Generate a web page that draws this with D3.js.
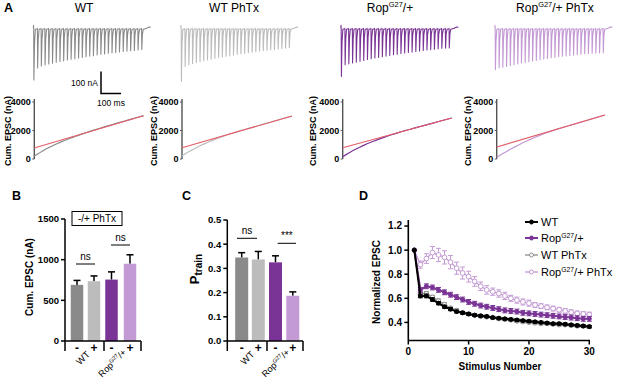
<!DOCTYPE html>
<html><head><meta charset="utf-8">
<script src="https://cdn.jsdelivr.net/npm/d3@7"></script>
<style>body{margin:0;background:#fff}svg{display:block}text{font-family:"Liberation Sans",Arial,sans-serif}</style>
</head><body>
<script>
// ---------------- DATA ----------------
const conditions = ["WT", "WT PhTx", "Rop/+", "Rop/+ PhTx"];
// Panel A: EPSC peak amplitudes (nA) for the 30-pulse train
const traceWT   = [241,185,176,171,167,163,159,155,152,148,145,142,139,136,133,130,128,125,122,120,117,115,113,111,109,107,105,104,102,100];
const traceWTP  = [247,178,170,165,160,156,152,148,144,140,137,134,131,128,125,122,119,117,114,112,110,107,105,103,101,99,97,95,93,91];
const traceRop  = [224,170,166,162,158,154,150,146,142,139,136,133,130,127,124,121,118,116,113,111,109,106,104,102,100,98,96,94,93,92];
const traceRopP = [193,184,182,178,174,170,166,162,159,156,153,150,147,144,141,138,136,133,131,129,127,125,123,121,119,118,117,116,115,114];
// Panel A: cumulative EPSC (nA) per pulse, and back-extrapolated linear fit (value at pulse 1 and 30)
const cumWT   = [200,370,530,680,820,950,1070,1185,1295,1400,1500,1595,1690,1780,1868,1955,2040,2123,2205,2285,2363,2440,2517,2593,2668,2743,2818,2893,2968,3043];
const cumWTP  = [210,380,540,690,830,960,1080,1195,1305,1410,1510,1608,1700,1788,1872,1952,2028,2104,2180,2256,2332,2408,2484,2560,2636,2712,2788,2864,2940,3016];
const cumRop  = [160,325,480,625,760,888,1008,1120,1226,1328,1426,1521,1612,1700,1785,1868,1945,2018,2090,2162,2234,2306,2378,2450,2522,2594,2666,2738,2810,2880];
const cumRopP = [100,275,435,585,730,870,1005,1135,1260,1380,1495,1605,1710,1810,1905,1995,2080,2160,2238,2315,2393,2470,2548,2626,2703,2781,2858,2936,3014,3090];
const fitWT = [770, 3040], fitWTP = [790, 3016], fitRop = [790, 2880], fitRopP = [840, 3090];
const cumTicks = [0, 2000, 4000];
// Panel B
const bSigns = ["-", "+", "-", "+"];
const bGroups = ["WT", "Rop/+"];
const bMeans = [690, 735, 755, 950];
const bErr   = [55, 65, 95, 110];
const bTicks = [0, 500, 1000, 1500];
// Panel C
const cMeans = [0.345, 0.337, 0.325, 0.187];
const cErr   = [0.020, 0.033, 0.027, 0.016];
const cTicks = [0, 0.1, 0.2, 0.3, 0.4, 0.5];
// Panel D
const stim = d3.range(1, 31);
const dWT     = [1.00,0.62,0.62,0.59,0.56,0.53,0.51,0.49,0.48,0.47,0.46,0.455,0.45,0.44,0.435,0.43,0.425,0.42,0.415,0.41,0.405,0.40,0.395,0.39,0.39,0.385,0.38,0.375,0.37,0.365];
const dWTerr  = [0,0.015,0.015,0.014,0.013,0.012,0.012,0.011,0.011,0.011,0.01,0.01,0.01,0.01,0.01,0.01,0.01,0.01,0.01,0.01,0.01,0.01,0.01,0.01,0.01,0.01,0.01,0.01,0.01,0.01];
const dWTP    = [1.00,0.64,0.64,0.61,0.58,0.55,0.52,0.50,0.48,0.47,0.46,0.45,0.445,0.44,0.43,0.425,0.42,0.41,0.405,0.40,0.395,0.39,0.39,0.385,0.38,0.38,0.375,0.37,0.37,0.365];
const dWTPerr = [0,0.015,0.015,0.015,0.014,0.013,0.012,0.012,0.011,0.011,0.011,0.01,0.01,0.01,0.01,0.01,0.01,0.01,0.01,0.01,0.01,0.01,0.01,0.01,0.01,0.01,0.01,0.01,0.01,0.01];
const dRop    = [1.00,0.67,0.70,0.69,0.67,0.65,0.63,0.61,0.59,0.57,0.555,0.54,0.53,0.52,0.51,0.50,0.495,0.49,0.48,0.475,0.47,0.465,0.46,0.455,0.45,0.445,0.44,0.435,0.43,0.43];
const dRopErr = [0,0.02,0.02,0.02,0.02,0.02,0.02,0.02,0.02,0.02,0.02,0.02,0.02,0.02,0.02,0.02,0.02,0.02,0.02,0.02,0.02,0.02,0.02,0.02,0.02,0.02,0.02,0.02,0.02,0.02];
const dRopP   = [1.00,0.88,0.93,0.98,0.96,0.94,0.90,0.85,0.81,0.78,0.74,0.70,0.67,0.655,0.64,0.62,0.60,0.585,0.57,0.56,0.545,0.535,0.525,0.515,0.505,0.495,0.485,0.475,0.47,0.465];
const dRopPerr= [0,0.03,0.04,0.05,0.055,0.055,0.055,0.05,0.05,0.045,0.04,0.035,0.035,0.03,0.03,0.03,0.025,0.025,0.025,0.025,0.02,0.02,0.02,0.02,0.02,0.02,0.02,0.02,0.02,0.02];
const dXTicks = [0, 10, 20, 30];
const dYTicks = [0.4, 0.6, 0.8, 1.0, 1.2];

// ---------------- STYLE ----------------
const C = {wt:"#8a8a8a", wtp:"#bcbcbc", rop:"#7a3496", ropp:"#c39ad4", red:"#e35d66", axis:"#000"};

const svg = d3.select("body").append("svg").attr("width", 617).attr("height", 382);

function ropLabel(sel, fs, tail) {
  sel.append("tspan").text("Rop");
  sel.append("tspan").text("G27").attr("font-size", fs*0.62).attr("dy", -fs*0.4);
  sel.append("tspan").text("/+" + (tail||"")).attr("dy", fs*0.4);
}
function letter(t, x, y) {
  svg.append("text").attr("x", x).attr("y", y).attr("font-size", 12.5).attr("font-weight", "bold").text(t);
}

// ---------------- PANEL A ----------------
letter("A", 4, 12);
const titles = [
  {x: 84, lab: "WT"}, {x: 234, lab: "WT PhTx"}, {x: 390, rop: true, tail: ""}, {x: 555, rop: true, tail: " PhTx"}
];
titles.forEach(t => {
  const tx = svg.append("text").attr("x", t.x).attr("y", 12).attr("font-size", 12).attr("text-anchor", "middle");
  if (t.rop) ropLabel(tx, 12, t.tail); else tx.text(t.lab);
});

const traces = [
  {amps: traceWT, x0: 33.5, col: C.wt},
  {amps: traceWTP, x0: 181, col: C.wtp},
  {amps: traceRop, x0: 341, col: C.rop},
  {amps: traceRopP, x0: 495, col: C.ropp}
];
traces.forEach(tr => {
  const tx = d3.scaleLinear().domain([0, 100]).range([tr.x0, tr.x0 + 18.6]);
  const ty = d3.scaleLinear().domain([0, 100]).range([28, 28 + 21.6]);
  const pts = [[-1, 0], [0, -12], [0.6, 0]];
  tr.amps.forEach((a, i) => {
    const t = 1 + i * 20;
    pts.push([t, 2], [t + 1.2, a], [t + 4.5, a * 0.3], [t + 9, 6], [t + 19.5, 3]);
  });
  const tl = 1 + 29 * 20 + 19.5;
  pts.push([tl + 8, 1], [tl + 14, -2], [tl + 22, -4], [tl + 30, -4]);
  svg.append("path").attr("d", d3.line().x(d => tx(d[0])).y(d => ty(d[1]))(pts))
    .attr("fill", "none").attr("stroke", tr.col).attr("stroke-width", 1.1).attr("stroke-linejoin", "round");
});
// scale bar
const sbx = d3.scaleLinear().domain([0, 100]).range([101, 121]);
const sby = d3.scaleLinear().domain([0, 100]).range([93.5, 71.5]);
svg.append("path").attr("d", `M${sbx(0)},${sby(100)}V${sby(0)}H${sbx(100)}`).attr("fill", "none").attr("stroke", "#000").attr("stroke-width", 1.5);
svg.append("text").attr("x", 98).attr("y", 86).attr("font-size", 8.5).attr("text-anchor", "end").text("100 nA");
svg.append("text").attr("x", 111).attr("y", 106).attr("font-size", 8.5).attr("text-anchor", "middle").text("100 ms");

// cumulative plots
const cumPanels = [
  {cum: cumWT, fit: fitWT, x0: 34.3, x1: 143.5, col: C.wt, lx: 8},
  {cum: cumWTP, fit: fitWTP, x0: 182, x1: 292, col: C.wtp, lx: 154},
  {cum: cumRop, fit: fitRop, x0: 342.7, x1: 451.7, col: C.rop, lx: 313},
  {cum: cumRopP, fit: fitRopP, x0: 496.7, x1: 605, col: C.ropp, lx: 468}
];
cumPanels.forEach(p => {
  const x = d3.scaleLinear().domain([1, 30]).range([p.x0, p.x1]);
  const y = d3.scaleLinear().domain([0, 4000]).range([159, 102]);
  const g = svg.append("g");
  g.append("line").attr("x1", p.x0).attr("x2", p.x0).attr("y1", 99).attr("y2", y(0)).attr("stroke", "#555").attr("stroke-width", 1.4);
  cumTicks.forEach(t => {
    g.append("line").attr("x1", p.x0 - 2).attr("x2", p.x0).attr("y1", y(t)).attr("y2", y(t)).attr("stroke", "#555").attr("stroke-width", 1);
    g.append("text").attr("x", p.x0 - 3.5).attr("y", y(t) + 3.2).attr("font-size", 9).attr("font-weight", "bold").attr("text-anchor", "end").text(t);
  });
  g.append("path").attr("d", d3.line().x((d, i) => x(i + 1)).y(d => y(d)).curve(d3.curveMonotoneX)(p.cum))
    .attr("fill", "none").attr("stroke", p.col).attr("stroke-width", 1.2);
  g.append("line").attr("x1", x(1)).attr("x2", x(30)).attr("y1", y(p.fit[0])).attr("y2", y(p.fit[1]))
    .attr("stroke", C.red).attr("stroke-width", 1.1);
  g.append("text").attr("transform", `translate(${p.lx + 3},131) rotate(-90)`).attr("font-size", 9).attr("font-weight", "bold")
    .attr("text-anchor", "middle").text("Cum.  EPSC (nA)");
});

// ---------------- BAR PANEL helper ----------------
function barPanel(o) {
  const y = d3.scaleLinear().domain(o.domain).range([341, o.top]);
  const g = svg.append("g");
  const cols = [C.wt, C.wtp, C.rop, C.ropp];
  o.means.forEach((m, i) => {
    const cx = o.centers[i];
    g.append("line").attr("x1", cx).attr("x2", cx).attr("y1", y(m)).attr("y2", y(m + o.err[i])).attr("stroke", "#000").attr("stroke-width", 1.5);
    g.append("line").attr("x1", cx - 3.5).attr("x2", cx + 3.5).attr("y1", y(m + o.err[i])).attr("y2", y(m + o.err[i])).attr("stroke", "#000").attr("stroke-width", 1.5);
    g.append("rect").attr("x", cx - o.bw / 2).attr("width", o.bw).attr("y", y(m)).attr("height", y(0) - y(m)).attr("fill", cols[i]);
  });
  g.append("line").attr("x1", o.axX).attr("x2", o.axX).attr("y1", o.top).attr("y2", 341).attr("stroke", "#000").attr("stroke-width", 1.5);
  o.ticks.forEach(t => {
    g.append("line").attr("x1", o.axX - 4).attr("x2", o.axX).attr("y1", y(t)).attr("y2", y(t)).attr("stroke", "#000").attr("stroke-width", 1.5);
    g.append("text").attr("x", o.axX - 6).attr("y", y(t) + 3.3).attr("font-size", 9.5).attr("font-weight", "bold").attr("text-anchor", "end").text(o.fmt(t));
  });
  g.append("line").attr("x1", o.axX).attr("x2", o.xEnd).attr("y1", 341).attr("y2", 341).attr("stroke", "#000").attr("stroke-width", 1.5);
  o.seps.forEach(s => g.append("line").attr("x1", s).attr("x2", s).attr("y1", 341).attr("y2", 351).attr("stroke", "#000").attr("stroke-width", 1.5));
  bSigns.forEach((s, i) => {
    g.append("text").attr("x", o.centers[i]).attr("y", 352).attr("font-size", 12).attr("font-weight", "bold").attr("text-anchor", "middle").text(s);
  });
  // group labels
  const gc = [(o.centers[0] + o.centers[1]) / 2, (o.centers[2] + o.centers[3]) / 2];
  g.append("text").attr("transform", `translate(${gc[0] + 5},355) rotate(-45)`).attr("font-size", 9.5).attr("text-anchor", "end").text(bGroups[0]);
  const rt = g.append("text").attr("transform", `translate(${gc[1] + 6},353) rotate(-45)`).attr("font-size", 9).attr("text-anchor", "end");
  ropLabel(rt, 9, "");
  return {g, y};
}

// ---------------- PANEL B ----------------
letter("B", 12, 200);
const B = barPanel({domain: [0, 1500], top: 219, means: bMeans, err: bErr, ticks: bTicks, fmt: d => d,
  centers: [77, 94, 111.5, 130], bw: 12.5, axX: 65, xEnd: 141, seps: [65, 104, 141]});
B.g.append("rect").attr("x", 72).attr("y", 211.5).attr("width", 50).attr("height", 14).attr("fill", "none").attr("stroke", "#000").attr("stroke-width", 1);
B.g.append("text").attr("x", 97).attr("y", 222).attr("font-size", 10).attr("text-anchor", "middle").text("-/+ PhTx");
[[76, 95, 264, "ns"], [111, 130, 245, "ns"]].forEach(s => {
  B.g.append("line").attr("x1", s[0]).attr("x2", s[1]).attr("y1", s[2]).attr("y2", s[2]).attr("stroke", "#000").attr("stroke-width", 1);
  B.g.append("text").attr("x", (s[0] + s[1]) / 2).attr("y", s[2] - 4).attr("font-size", 10).attr("text-anchor", "middle").text(s[3]);
});
B.g.append("text").attr("transform", "translate(33,277) rotate(-90)").attr("font-size", 10).attr("font-weight", "bold").attr("text-anchor", "middle").text("Cum.  EPSC (nA)");

// ---------------- PANEL C ----------------
letter("C", 182, 200);
const Cp = barPanel({domain: [0, 0.5], top: 220, means: cMeans, err: cErr, ticks: cTicks, fmt: d3.format(".1f"),
  centers: [241.7, 258.3, 275.5, 292.8], bw: 13, axX: 227.3, xEnd: 303, seps: [227.3, 267, 303]});
[[237, 257, 238.3, "ns"], [277.7, 296, 243.3, "***"]].forEach(s => {
  Cp.g.append("line").attr("x1", s[0]).attr("x2", s[1]).attr("y1", s[2]).attr("y2", s[2]).attr("stroke", "#000").attr("stroke-width", 1);
  Cp.g.append("text").attr("x", (s[0] + s[1]) / 2).attr("y", s[2] - 4).attr("font-size", 10).attr("text-anchor", "middle").text(s[3]);
});
const pt = Cp.g.append("text").attr("transform", "translate(199,269) rotate(-90)").attr("font-weight", "bold").attr("text-anchor", "middle");
pt.append("tspan").text("P").attr("font-size", 13);
pt.append("tspan").text("train").attr("font-size", 10).attr("dy", 3);

// ---------------- PANEL D ----------------
letter("D", 359, 200);
const dx = d3.scaleLinear().domain([0, 30]).range([408.3, 589.3]);
const dy = d3.scaleLinear().domain([0.25, 1.25]).range([340.5, 220]);
const gD = svg.append("g");
gD.append("line").attr("x1", 408.3).attr("x2", 408.3).attr("y1", 220).attr("y2", 340.5).attr("stroke", "#000").attr("stroke-width", 1.6);
gD.append("line").attr("x1", 408.3).attr("x2", 590).attr("y1", 340.5).attr("y2", 340.5).attr("stroke", "#000").attr("stroke-width", 1.6);
dYTicks.forEach(t => {
  gD.append("line").attr("x1", 404.3).attr("x2", 408.3).attr("y1", dy(t)).attr("y2", dy(t)).attr("stroke", "#000").attr("stroke-width", 1.5);
  gD.append("text").attr("x", 402).attr("y", dy(t) + 3.4).attr("font-size", 10).attr("font-weight", "bold").attr("text-anchor", "end").text(d3.format(".1f")(t));
});
dXTicks.forEach(t => {
  gD.append("line").attr("x1", dx(t)).attr("x2", dx(t)).attr("y1", 340.5).attr("y2", 344.5).attr("stroke", "#000").attr("stroke-width", 1.5);
  gD.append("text").attr("x", dx(t)).attr("y", 355).attr("font-size", 10).attr("font-weight", "bold").attr("text-anchor", "middle").text(t);
});
gD.append("text").attr("x", 500).attr("y", 370).attr("font-size", 10).attr("font-weight", "bold").attr("text-anchor", "middle").text("Stimulus Number");
gD.append("text").attr("transform", "translate(380,282) rotate(-90)").attr("font-size", 10).attr("font-weight", "bold").attr("text-anchor", "middle").text("Normalized EPSC");

const dSeries = [
  {v: dRopP, e: dRopPerr, col: C.ropp, open: true, lw: 1.3, r: 2.4},
  {v: dWTP, e: dWTPerr, col: "#8c8c8c", open: true, lw: 1.3, r: 2.1},
  {v: dRop, e: dRopErr, col: C.rop, open: false, lw: 2, r: 2},
  {v: dWT, e: dWTerr, col: "#000", open: false, lw: 2, r: 2}
];
dSeries.forEach(s => {
  const g = gD.append("g");
  s.v.forEach((v, i) => {
    if (!s.e[i]) return;
    const x = dx(stim[i]);
    g.append("line").attr("x1", x).attr("x2", x).attr("y1", dy(v - s.e[i])).attr("y2", dy(v + s.e[i])).attr("stroke", s.col).attr("stroke-width", 1);
    [v - s.e[i], v + s.e[i]].forEach(w => g.append("line").attr("x1", x - 2.5).attr("x2", x + 2.5).attr("y1", dy(w)).attr("y2", dy(w)).attr("stroke", s.col).attr("stroke-width", 1));
  });
  g.append("path").attr("d", d3.line().x((d, i) => dx(stim[i])).y(d => dy(d))(s.v)).attr("fill", "none").attr("stroke", s.col).attr("stroke-width", s.lw);
  s.v.forEach((v, i) => g.append("circle").attr("cx", dx(stim[i])).attr("cy", dy(v)).attr("r", s.r)
    .attr("fill", s.open ? "#fff" : s.col).attr("stroke", s.col).attr("stroke-width", 1));
});
// legend
const legend = [
  {col: "#000", open: false, lw: 2, lab: "WT"},
  {col: C.rop, open: false, lw: 2, rop: true, tail: ""},
  {col: "#8c8c8c", open: true, lw: 1.3, lab: "WT PhTx"},
  {col: C.ropp, open: true, lw: 1.3, rop: true, tail: " PhTx"}
];
const legY = [222, 238, 255, 272];
legend.forEach((l, i) => {
  const y = legY[i];
  gD.append("line").attr("x1", 525).attr("x2", 538).attr("y1", y).attr("y2", y).attr("stroke", l.col).attr("stroke-width", l.lw);
  gD.append("circle").attr("cx", 531.5).attr("cy", y).attr("r", 2).attr("fill", l.open ? "#fff" : l.col).attr("stroke", l.col).attr("stroke-width", 1);
  const t = gD.append("text").attr("x", 541).attr("y", y + 4).attr("font-size", 11);
  if (l.rop) ropLabel(t, 11, l.tail); else t.text(l.lab);
});
</script>
</body></html>
